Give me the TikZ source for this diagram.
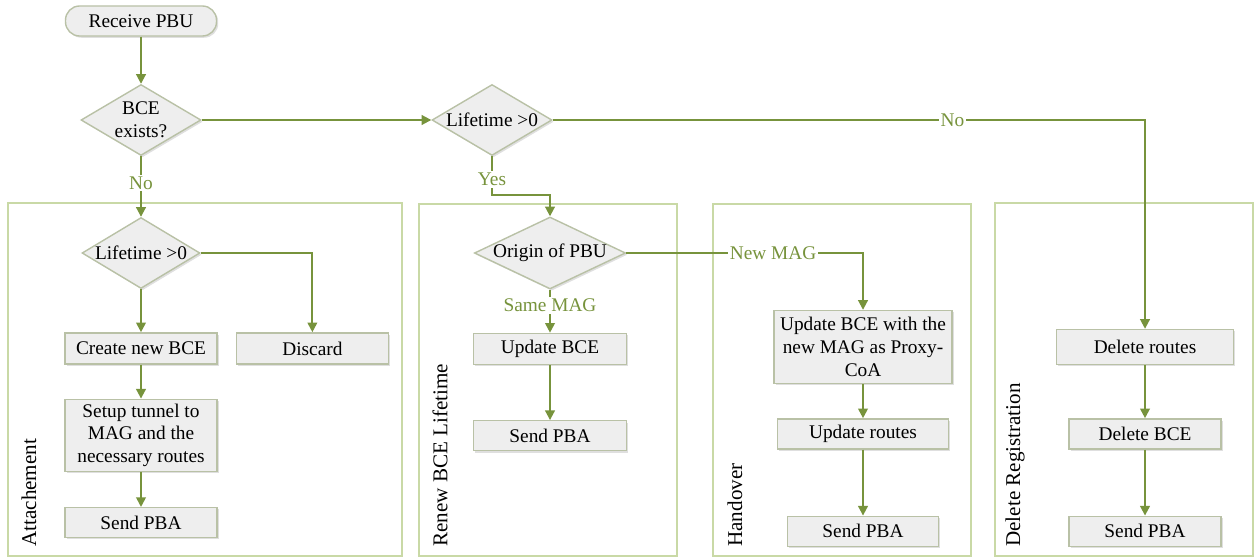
\documentclass[tikz,border=0pt]{standalone}
\usepackage{fontspec}
\setmainfont{Liberation Serif}
\usepackage{xcolor}
\usetikzlibrary{shapes,arrows.meta,positioning,shadows}
\definecolor{flowgreen}{HTML}{77933C}
\definecolor{panelgreen}{HTML}{C9D9A6}
\definecolor{boxline}{HTML}{B9C1A6}
\definecolor{boxfill}{HTML}{EEEEEE}
\tikzset{
    box/.style={rectangle, draw=boxline, fill=boxfill, line width=0.8pt, minimum width=3.04cm, minimum height=0.62cm, inner sep=1pt, align=center, drop shadow={opacity=0.25, shadow xshift=1pt, shadow yshift=-1pt}},
    term/.style={box, rounded corners=8pt, minimum width=3.02cm, minimum height=0.6cm},
    decision/.style={diamond, draw=boxline, fill=boxfill, line width=0.8pt, inner sep=0pt, aspect=1.67, minimum width=2.4cm, minimum height=1.42cm, align=center, drop shadow={opacity=0.25, shadow xshift=1pt, shadow yshift=-1pt}},
    line/.style={draw=flowgreen, line width=1.1pt, -{Triangle[length=5.5pt, width=5.5pt]}},
    lbl/.style={text=flowgreen, fill=white, inner sep=1pt},
    panel/.style={draw=panelgreen, line width=1.1pt},
    paneltitle/.style={rotate=90, anchor=west, inner sep=0pt, font=\rmfamily\fontsize{12}{14}\selectfont}
}

\begin{document}
\begin{tikzpicture}[x=0.02cm, y=-0.02cm, font=\rmfamily\fontsize{11}{13}\selectfont]
    \useasboundingbox (0,0) rectangle (1256,557);

    % Panels
    \draw [panel] (8,203) rectangle (402,556);
    \draw [panel] (419,204) rectangle (677,556);
    \draw [panel] (713,204) rectangle (971,556);
    \draw [panel] (995,203) rectangle (1253,556);
    \node [paneltitle] (tattach) at (29,547) {Attachement};
    \node [paneltitle] (trenew) at (440,547) {Renew BCE Lifetime};
    \node [paneltitle] (thand) at (735,547) {Handover};
    \node [paneltitle] (tdel) at (1015,547) {Delete Registration};

    \node [term] (recv) at (141,21) {Receive PBU};
    \node [decision, inner ysep=-3pt] (bce) at (141,120) {BCE\\exists?};
    \node [decision] (life1) at (492,120) {Lifetime >0};

    % Attachement
    \node [decision, minimum width=2.36cm] (life2) at (141,253) {Lifetime >0};
    \node [box, below=0.86cm of life2] (create) {Create new BCE};
    \node [box, right=0.36cm of create] (discard) {Discard};
    \node [box, minimum height=1.44cm, below=0.68cm of create] (setup) {Setup tunnel to\\MAG and the\\necessary routes};
    \node [box, minimum height=0.6cm, below=0.7cm of setup] (send1) {Send PBA};

    % Renew BCE lifetime
    \node [decision, minimum width=3cm, aspect=2.1] (origin) at (550,253) {Origin of PBU};
    \node [box, minimum width=3.06cm, below=0.86cm of origin] (upd) {Update BCE};
    \node [box, minimum width=3.06cm, minimum height=0.6cm, below=1.1cm of upd] (send2) {Send PBA};

    % Handover
    \node [box, minimum width=3.56cm, minimum height=1.46cm] (updmag) at (863,347) {Update BCE with the\\new MAG as Proxy-\\CoA};
    \node [box, minimum width=3.42cm, minimum height=0.6cm, below=0.68cm of updmag] (updroutes) {Update routes};
    \node [box, minimum width=3.02cm, minimum height=0.6cm, below=1.32cm of updroutes] (send3) {Send PBA};

    % Delete registration
    \node [box, minimum width=3.54cm, minimum height=0.7cm] (delroutes) at (1145,347) {Delete routes};
    \node [box, minimum height=0.6cm, below=1.06cm of delroutes] (delbce) {Delete BCE};
    \node [box, minimum height=0.6cm, below=1.32cm of delbce] (send4) {Send PBA};

    % Main decisions
    \path [line] (recv) -- (bce);
    \path [line] (bce) -- (life1);
    \path [line] (bce) -- node [lbl, pos=0.44] {No} (life2);
    \path [line] (life1.east) -- node [lbl, pos=0.675] {No} (delroutes.north |- life1.east) -- (delroutes);
    \path [line] (life1.south) -- node [lbl, pos=0.6] {Yes} ++(0,39) -| (origin.north);

    % Attachement flow
    \path [line] (life2.east) -| (discard.north);
    \path [line] (life2) -- (create);
    \path [line] (create) -- (setup);
    \path [line] (setup) -- (send1);

    % Renew flow
    \path [line] (origin) -- node [lbl, pos=0.37] {Same MAG} (upd);
    \path [line] (upd) -- (send2);

    % Handover flow
    \path [line] (origin.east) -- node [lbl, pos=0.62] {New MAG} (updmag.north |- origin.east) -- (updmag);
    \path [line] (updmag) -- (updroutes);
    \path [line] (updroutes) -- (send3);

    % Delete flow
    \path [line] (delroutes) -- (delbce);
    \path [line] (delbce) -- (send4);
\end{tikzpicture}
\end{document}
